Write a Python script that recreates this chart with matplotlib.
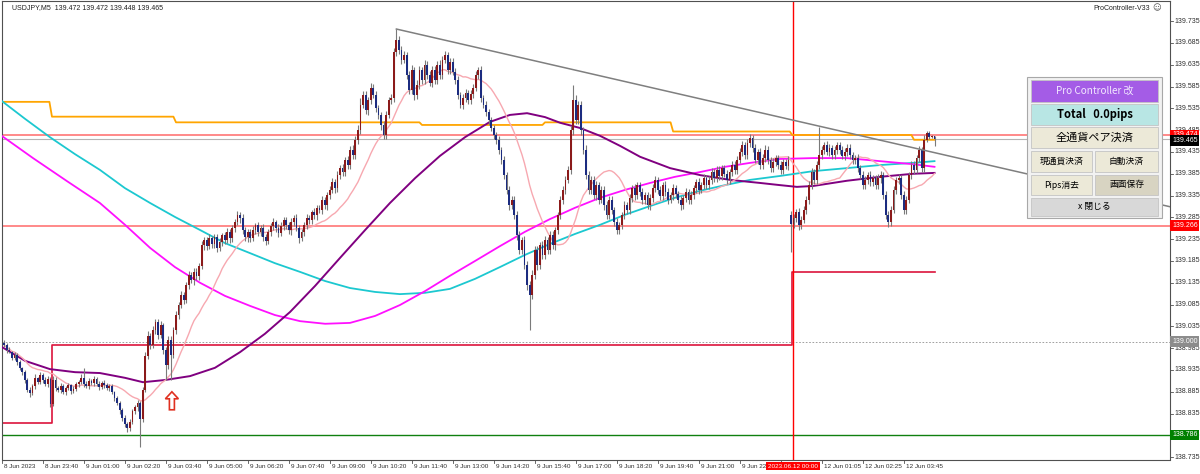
"""
USDJPY M5 chart (MT4 style) with MAs, levels and the ProController panel.
"""
import numpy as np
import pandas as pd
import matplotlib
matplotlib.use("Agg")
import matplotlib.pyplot as plt
from matplotlib.patches import Rectangle, Polygon
from matplotlib.transforms import blended_transform_factory

plt.rcParams["font.family"] = ["Liberation Sans Narrow", "Liberation Sans", "DejaVu Sans"]
JP = ["Noto Sans CJK JP", "DejaVu Sans"]

# ---------------------------------------------------------------------------
# Data (prices in points above 139.000, 1 point = 0.001)
# ---------------------------------------------------------------------------
BASE = 139.0
CLOSE_PTS = [
    -8, -19, -24, -38, -31, -47, -61, -70, -88, -111, -118, -102, -84, -93, -77, -88, -97, -86, -143, -88,
    -107, -111, -102, -116, -107, -100, -113, -109, -97, -93, -84, -97, -102, -91, -95, -86, -97, -104, -95, -100,
    -107, -102, -116, -130, -141, -157, -175, -189, -198, -185, -160, -150, -140, -178, -111, -33, 13, -8, 27, 45,
    15, 38, -19, -54, 4, -31, 27, 61, 84, 107, 96, 130, 153, 141, 160, 150, 174, 221, 233, 219,
    237, 223, 240, 215, 228, 244, 233, 251, 237, 261, 274, 290, 283, 256, 240, 251, 237, 256, 267, 251,
    261, 240, 230, 251, 265, 274, 261, 249, 265, 279, 267, 256, 274, 283, 261, 237, 251, 267, 283, 279,
    297, 290, 306, 302, 325, 313, 336, 348, 366, 352, 382, 398, 389, 417, 405, 440, 428, 463, 485, 543,
    566, 531, 554, 582, 566, 536, 520, 497, 474, 520, 554, 559, 664, 692, 669, 646, 657, 612, 577, 623,
    566, 589, 623, 600, 635, 612, 594, 623, 600, 635, 612, 646, 657, 623, 641, 619, 600, 566, 543, 559,
    570, 554, 568, 582, 612, 623, 559, 543, 527, 508, 490, 474, 463, 440, 417, 382, 348, 313, 325, 290,
    244, 210, 233, 176, 130, 107, 153, 210, 176, 221, 198, 233, 210, 244, 221, 256, 290, 325, 348, 371,
    394, 485, 554, 508, 543, 485, 440, 382, 348, 371, 336, 359, 325, 348, 313, 290, 325, 302, 274, 256,
    267, 290, 313, 302, 329, 352, 336, 359, 343, 325, 336, 313, 329, 352, 371, 348, 334, 359, 343, 325,
    336, 352, 339, 325, 313, 329, 343, 325, 336, 352, 366, 348, 359, 375, 359, 371, 389, 375, 394, 380,
    398, 385, 371, 389, 405, 394, 417, 435, 451, 428, 456, 467, 444, 417, 435, 405, 421, 440, 417, 398,
    412, 421, 405, 394, 412, 403, 417, 270, 283, 297, 267, 279, 302, 325, 359, 389, 371, 405, 428, 440,
    451, 435, 444, 428, 440, 451, 440, 426, 435, 444, 428, 417, 421, 398, 382, 359, 371, 382, 366, 375,
    359, 375, 382, 336, 290, 274, 302, 348, 371, 375, 336, 302, 325, 382, 405, 394, 421, 440, 398, 463,
    479, 470, 472, 465,
]
UP_PTS = [
    5, 4, 6, 3, 8, 4, 5, 3, 6, 4, 7, 5, 9, 4, 8, 5, 6, 7, 4, 9,
    6, 5, 7, 4, 6, 5, 3, 8, 5, 6, 9, 23, 6, 7, 5, 8, 4, 6, 5, 7,
    6, 4, 5, 3, 6, 4, 5, 7, 4, 8, 6, 5, 7, 4, 8, 10, 12, 6, 9, 8,
    7, 10, 5, 6, 9, 8, 6, 9, 7, 10, 8, 6, 9, 7, 8, 10, 6, 9, 7, 8,
    9, 6, 8, 7, 10, 6, 8, 9, 7, 6, 8, 10, 7, 9, 6, 8, 7, 9, 6, 8,
    7, 9, 6, 8, 7, 10, 6, 8, 9, 7, 6, 8, 9, 7, 10, 6, 8, 7, 9, 8,
    6, 9, 7, 8, 10, 7, 8, 9, 10, 7, 9, 8, 10, 7, 9, 8, 10, 9, 12, 15,
    10, 9, 8, 12, 9, 8, 7, 6, 9, 10, 8, 9, 10, 26, 8, 9, 10, 8, 9, 12,
    8, 10, 9, 8, 10, 9, 8, 10, 9, 8, 10, 9, 10, 8, 9, 10, 8, 9, 7, 8,
    9, 8, 10, 9, 8, 8, 9, 7, 8, 6, 7, 8, 6, 9, 7, 8, 6, 9, 10, 8,
    9, 10, 8, 9, 10, 10, 12, 9, 10, 8, 9, 10, 8, 9, 10, 8, 7, 9, 8, 10,
    9, 10, 35, 12, 10, 9, 8, 10, 9, 8, 9, 10, 8, 9, 8, 10, 9, 8, 7, 9,
    8, 7, 9, 8, 10, 7, 9, 8, 7, 9, 8, 7, 9, 10, 8, 7, 9, 8, 10, 9,
    7, 9, 8, 7, 9, 8, 10, 7, 9, 8, 7, 9, 8, 10, 7, 8, 9, 7, 8, 9,
    8, 7, 9, 8, 10, 9, 8, 10, 9, 8, 9, 10, 8, 9, 7, 8, 9, 10, 8, 7,
    9, 8, 7, 9, 8, 7, 9, 10, 9, 8, 10, 9, 8, 9, 10, 9, 8, 10, 64, 9,
    8, 9, 10, 8, 9, 7, 8, 9, 8, 10, 9, 8, 7, 9, 8, 10, 9, 8, 9, 7,
    8, 9, 10, 8, 9, 10, 9, 8, 7, 9, 8, 10, 9, 8, 9, 10, 8, 9, 7, 10,
    4, 5, 3, 0,
]
DN_PTS = [
    4, 6, 3, 5, 4, 6, 5, 7, 6, 5, 8, 4, 6, 5, 4, 7, 5, 6, 8, 5,
    7, 5, 6, 4, 7, 5, 6, 4, 5, 7, 4, 6, 5, 7, 4, 6, 5, 8, 4, 6,
    5, 7, 4, 6, 5, 8, 6, 7, 9, 6, 5, 7, 8, 64, 6, 5, 7, 8, 6, 9,
    8, 7, 10, 34, 8, 57, 7, 9, 8, 6, 10, 8, 9, 7, 10, 8, 9, 7, 10, 8,
    7, 9, 8, 10, 7, 9, 8, 7, 10, 8, 9, 7, 10, 8, 9, 12, 8, 7, 10, 9,
    8, 10, 9, 7, 8, 10, 9, 8, 7, 10, 9, 8, 12, 9, 8, 10, 7, 9, 8, 10,
    9, 8, 10, 7, 9, 8, 10, 9, 8, 10, 9, 8, 10, 9, 8, 10, 9, 8, 10, 9,
    8, 10, 12, 9, 8, 10, 9, 12, 10, 9, 8, 10, 9, 8, 10, 9, 8, 10, 9, 8,
    12, 9, 10, 8, 9, 10, 8, 9, 10, 8, 9, 10, 8, 9, 10, 8, 9, 10, 8, 9,
    10, 8, 9, 10, 8, 9, 10, 8, 9, 10, 8, 9, 10, 9, 10, 8, 9, 10, 8, 9,
    10, 9, 8, 10, 12, 80, 10, 9, 12, 10, 9, 8, 10, 9, 8, 10, 9, 8, 10, 9,
    8, 9, 10, 9, 8, 10, 9, 8, 10, 9, 8, 10, 9, 8, 10, 9, 8, 10, 9, 8,
    10, 9, 8, 10, 9, 8, 10, 9, 8, 10, 9, 8, 10, 9, 8, 10, 9, 8, 10, 9,
    8, 10, 9, 8, 10, 9, 8, 10, 9, 8, 10, 9, 8, 10, 9, 8, 10, 9, 8, 10,
    9, 8, 10, 9, 8, 10, 9, 8, 10, 9, 8, 10, 9, 8, 10, 9, 8, 10, 9, 8,
    10, 9, 8, 10, 9, 8, 10, 64, 9, 8, 10, 9, 8, 10, 9, 8, 10, 9, 8, 10,
    9, 8, 10, 9, 8, 10, 9, 8, 10, 9, 8, 10, 9, 8, 10, 9, 8, 10, 9, 8,
    10, 9, 10, 9, 8, 11, 9, 8, 10, 9, 8, 10, 9, 8, 10, 9, 8, 10, 9, 8,
    6, 5, 4, 17,
]
OPEN_OVERRIDE = {0: -2, 307: 290}   # first bar and the Monday gap

# moving averages (bar index, points)
MA_BARS = [115.4, 125.2, 134.9, 144.7, 154.4, 164.2, 173.9, 183.7, 193.4, 203.2, 212.9, 222.7,
           232.5, 242.2, 252.0, 261.7, 271.5, 281.3, 291.0, 302.7, 315.6, 328.8, 341.7, 354.6, 363]
CYAN_BARS = [-1, 8.1, 17.8, 27.6, 37.3, 47.1, 56.9, 66.6, 76.4, 86.1, 95.9, 105.6] + MA_BARS
CYAN_PTS = [552, 511, 469, 430, 394, 352, 318, 286, 256, 226, 203, 180,
            160, 139, 123, 114, 109, 112, 121, 144, 171, 199, 224, 247,
            268, 291, 311, 330, 346, 359, 371, 380, 391, 398, 405, 410, 414]
MAGENTA_BARS = [-1, 11.2, 24.5, 37.3, 47.1, 56.9, 66.6, 76.4, 86.1, 95.9, 105.6] + MA_BARS
MAGENTA_PTS = [472, 421, 368, 318, 268, 215, 171, 135, 105, 82, 61,
               47, 41, 43, 59, 84, 116, 151, 185, 219, 252, 281,
               307, 330, 348, 364, 378, 389, 401, 410, 419, 421, 421, 414, 407, 401]
PURPLE_BARS = [-1, 8.1, 17.8, 27.6, 37.3, 47.1, 54.1, 62.7, 72.5, 82.2, 92.0, 101.7, 111.5,
               121.3, 131.0, 140.8, 150.5, 160.3, 170.0, 179.8, 189.5, 197.3, 204.0, 211.0,
               216.9, 224.7, 232.5, 240.3, 248.1, 259.8, 271.5, 283.2, 294.9, 302.7, 309.3,
               315.6, 328.8, 341.7, 354.6, 363]
PURPLE_PTS = [-12, -44, -63, -70, -72, -83, -93, -88, -79, -60, -24, 18, 68,
              128, 192, 256, 318, 375, 426, 469, 504, 520, 524, 515,
              502, 490, 472, 449, 424, 398, 382, 371, 364, 359, 355,
              357, 369, 378, 385, 387]
PINK_PERIOD = 20

ORANGE_START = [-1, 18.6, 67.0, 163.0, 211.0, 261.0, 307.5, 355.0]
ORANGE_PTS = [550, 516, 503, 497, 503, 482, 474, 463]
ORANGE_END = 363

STEP_BARS = [-1, 18.6, 307.5, 363]        # crimson previous-range step
STEP_PTS = [-187, -8, 160, 160]

LEVEL_RED = [139.474, 139.266]
LEVEL_GREEN = 138.786
LEVEL_ROUND = 139.000
VLINE_BAR = 307.7
TREND = [(153.0, 139.717), (333.0, 139.474)]
ARROW_BAR, ARROW_PRICE = 65.4, 138.885

TIME_LABELS = ["8 Jun 2023", "8 Jun 23:40", "9 Jun 01:00", "9 Jun 02:20", "9 Jun 03:40",
               "9 Jun 05:00", "9 Jun 06:20", "9 Jun 07:40", "9 Jun 09:00", "9 Jun 10:20",
               "9 Jun 11:40", "9 Jun 13:00", "9 Jun 14:20", "9 Jun 15:40", "9 Jun 17:00",
               "9 Jun 18:20", "9 Jun 19:40", "9 Jun 21:00", "9 Jun 22:20", "",
               "12 Jun 01:05", "12 Jun 02:25", "12 Jun 03:45"]
TIME_STEP = 16
CURSOR_LABEL = "2023.06.12 00:00"
PRICE_TICKS = [round(138.735 + 0.05 * k, 3) for k in range(21)]

# ---------------------------------------------------------------------------
# Build OHLC
# ---------------------------------------------------------------------------
n = len(CLOSE_PTS)
bars = np.arange(n)
close = BASE + np.array(CLOSE_PTS) / 1000
opens = np.r_[np.nan, close[:-1]]
for k, v in OPEN_OVERRIDE.items():
    opens[k] = BASE + v / 1000
high = np.maximum(opens, close) + np.array(UP_PTS) / 1000
low = np.minimum(opens, close) - np.array(DN_PTS) / 1000
pink = pd.Series(close).rolling(PINK_PERIOD, min_periods=1).mean()

def pts(a):
    return BASE + np.asarray(a) / 1000

# ---------------------------------------------------------------------------
# Figure
# ---------------------------------------------------------------------------
W, H = 1200, 474
fig = plt.figure(figsize=(W / 100, H / 100), dpi=100)
fig.patch.set_facecolor("white")
L, R, T, B = 2, 1170, 1, 459.5
ax = fig.add_axes([L / W, (H - B) / H, (R - L) / W, (B - T) / H])
X0, X1 = -0.9, 454.9
Y0, Y1 = 138.7297, 139.7813
ax.set_xlim(X0, X1)
ax.set_ylim(Y0, Y1)
ax.set_xticks([])
ax.set_yticks([])
for s in ax.spines.values():
    s.set_color("#505050")
    s.set_linewidth(0.8)

# level lines
for lv in LEVEL_RED:
    ax.axhline(lv, color="#FF8080", lw=1.3, zorder=1)
ax.axhline(close[-1], color="#B4B4B4", lw=0.8, zorder=1)
ax.axhline(LEVEL_ROUND, color="#909090", lw=0.6, ls=(0, (2, 2)), zorder=1)
ax.axhline(LEVEL_GREEN, color="#108010", lw=1.0, zorder=1)
ax.step(STEP_BARS, pts(STEP_PTS), where="post", color="#DC143C", lw=1.2, zorder=2)
ax.axvline(VLINE_BAR, color="#FF0000", lw=1.0, zorder=2)

# orange trailing line (one-bar slanted steps)
ox, oy = [], []
for i, (st, lvl) in enumerate(zip(ORANGE_START, ORANGE_PTS)):
    end = ORANGE_START[i + 1] - 1 if i + 1 < len(ORANGE_START) else ORANGE_END
    ox += [st, end]
    oy += [lvl, lvl]
ax.plot(ox, pts(oy), color="#FFA500", lw=1.3, zorder=3)

# moving averages
ax.plot(CYAN_BARS, pts(CYAN_PTS), color="#1CC8D0", lw=1.3, zorder=3)
ax.plot(MAGENTA_BARS, pts(MAGENTA_PTS), color="#FF10FF", lw=1.3, zorder=3)
ax.plot(PURPLE_BARS, pts(PURPLE_PTS), color="#800080", lw=1.4, zorder=3)
ax.plot(bars, pink, color="#F7A8B0", lw=1.0, zorder=3)

# candles
bull = close >= opens
ax.vlines(bars, low, high, color="#7A7A7A", lw=0.8, zorder=4)
body_lo = np.minimum(opens, close)
body_h = np.maximum(np.abs(close - opens), 0.0007)
ax.bar(bars[bull], body_h[bull], bottom=body_lo[bull], width=0.72,
       color="#8B1A1A", edgecolor="none", zorder=5)
ax.bar(bars[~bull], body_h[~bull], bottom=body_lo[~bull], width=0.72,
       color="#1C2C80", edgecolor="none", zorder=5)

# trend line ray
(b1, p1), (b2, p2) = TREND
slope = (p2 - p1) / (b2 - b1)
ax.plot([b1, X1], [p1, p1 + slope * (X1 - b1)], color="#7F7F7F", lw=1.1, zorder=6)

# hollow up arrow
bx = (X1 - X0) / (R - L)
py = (Y1 - Y0) / (B - T)
shape = [(0, 0), (-6.5, 7), (-2.5, 7), (-2.5, 18), (2.5, 18), (2.5, 7), (6.5, 7)]
ax.add_patch(Polygon([(ARROW_BAR + dx * bx, ARROW_PRICE - dy * py) for dx, dy in shape],
                     closed=True, fc="white", ec="#E03020", lw=1.2, zorder=7))

# price axis
tr_y = blended_transform_factory(ax.transAxes, ax.transData)
for p in PRICE_TICKS:
    ax.plot([1, 1 + 3 / (R - L)], [p, p], transform=tr_y, color="#505050", lw=0.6, clip_on=False)
    ax.text(1 + 4 / (R - L), p, f"{p:.3f}", transform=tr_y, fontsize=5, color="#303030",
            va="center", ha="left", clip_on=False)
boxes = [(LEVEL_RED[0], "#FF0000"), (close[-1], "#000000"), (LEVEL_RED[1], "#FF0000"),
         (LEVEL_ROUND, "#8C8C8C"), (LEVEL_GREEN, "#008000")]
for p, col in boxes:
    ax.text(1 + 2 / (R - L), p - (0.004 if col == "#000000" else 0), f"{p:.3f}", transform=tr_y,
            fontsize=5, color="white", va="center", ha="left", clip_on=False, zorder=8,
            bbox=dict(boxstyle="square,pad=0.25", fc=col, ec="none"))

# time axis
tr_x = blended_transform_factory(ax.transData, ax.transAxes)
for k, lab in enumerate(TIME_LABELS):
    b = k * TIME_STEP
    ax.plot([b - 0.8, b - 0.8], [0, -3 / (B - T)], transform=tr_x, color="#505050", lw=0.6,
            clip_on=False)
    if lab:
        ax.text(b - 0.3, -6.5 / (B - T), lab, transform=tr_x, fontsize=4.6, color="#303030",
                va="center", ha="left", clip_on=False)
ax.text(VLINE_BAR, -6.5 / (B - T), CURSOR_LABEL, transform=tr_x, fontsize=4.6, color="white",
        va="center", ha="center", clip_on=False, zorder=9,
        bbox=dict(boxstyle="square,pad=0.3", fc="#FF0000", ec="none"))

# ---------------------------------------------------------------------------
# Overlay: header texts and the controller panel (pixel coordinates)
# ---------------------------------------------------------------------------
ov = fig.add_axes([0, 0, 1, 1], zorder=10)
ov.set_xlim(0, W)
ov.set_ylim(H, 0)
ov.axis("off")
ov.patch.set_alpha(0)

ov.text(12, 8, f"USDJPY,M5  {opens[-1]:.3f} {high[-1]:.3f} {low[-1]:.3f} {close[-1]:.3f}",
        fontsize=5, color="#202020", va="center", ha="left")
ov.text(1150, 8, "ProController-V33", fontsize=5, color="#202020", va="center", ha="right")
ov.text(1157, 8, "\u263A", fontsize=6, color="#505050", va="center", ha="center",
        family=["DejaVu Sans"])

ov.add_patch(Rectangle((1027, 77), 135, 141, fc="#F2F2F2", ec="#A8A8A8", lw=0.8))
buttons = [
    (1031, 80, 127, 22, "#A45CE6", "Pro Controller 改", "#F2E8FF", 7.2, "normal"),
    (1031, 104, 127, 21, "#B8E6E4", "Total   0.0pips", "#000000", 8, "bold"),
    (1031, 127, 127, 21, "#ECE9D8", "全通貨ペア決済", "#000000", 8, "normal"),
    (1031, 151, 61, 21, "#ECE9D8", "現通貨決済", "#000000", 6.3, "normal"),
    (1095, 151, 63, 21, "#ECE9D8", "自動決済", "#000000", 6.3, "normal"),
    (1031, 175, 61, 20, "#ECE9D8", "Pips消去", "#000000", 6.3, "normal"),
    (1095, 175, 63, 20, "#D8D4C2", "画面保存", "#000000", 6.3, "normal"),
    (1031, 198, 127, 18, "#D8D8D8", "x 閉じる", "#000000", 6.3, "normal"),
]
for x, y, w, h, fc, lab, tc, fs, wt in buttons:
    ov.add_patch(Rectangle((x, y), w, h, fc=fc, ec="#C4C4C4", lw=0.6))
    ov.text(x + w / 2, y + h / 2, lab, fontsize=fs, color=tc, fontweight=wt,
            va="center", ha="center", family=JP)

fig.savefig("out.png", dpi=100)
